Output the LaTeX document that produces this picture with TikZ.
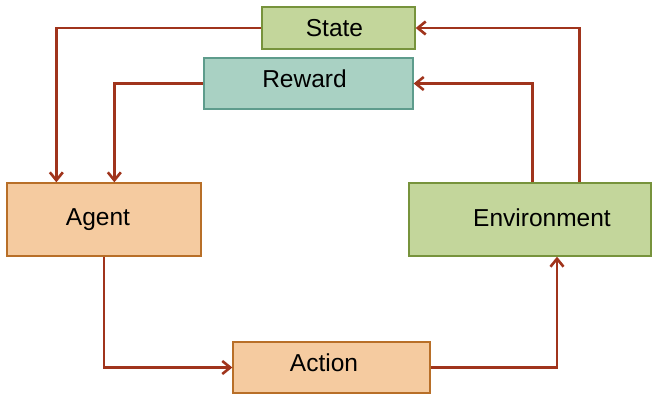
\documentclass[tikz,border=0pt]{standalone}
\usepackage{fontspec}
\setmainfont{Liberation Sans}
\usepackage{tikz}
\usetikzlibrary{arrows.meta,positioning}
\definecolor{arrowred}{HTML}{A0341C}
\definecolor{greenfill}{HTML}{C3D69B}
\definecolor{greenline}{HTML}{77933C}
\definecolor{tealfill}{HTML}{A9D1C3}
\definecolor{tealline}{HTML}{5E9C8C}
\definecolor{peachfill}{HTML}{F5CBA0}
\definecolor{peachline}{HTML}{B86F28}
% move a label inside its box: #1 = twice the x offset, #2 = lift
\newcommand{\nudge}[3]{\raisebox{#2}[\height][\depth]{\hspace*{#1}#3}}
\tikzset{
	box/.style={draw,line width=1.3pt,inner sep=0pt,font=\fontsize{24.5}{28}\selectfont},
	greenbox/.style={box,fill=greenfill,draw=greenline},
	tealbox/.style={box,fill=tealfill,draw=tealline},
	peachbox/.style={box,fill=peachfill,draw=peachline},
	flow/.style={-{Straight Barb[length=8pt,width=13pt]},draw=arrowred,line width=2.6pt}
}
\begin{document}
\begin{tikzpicture}[x=1pt,y=-1pt]
		\useasboundingbox (0,0) rectangle (653,396);
		\node[greenbox,minimum width=153pt,minimum height=42pt] (State) at (338.5,28) {\nudge{-8pt}{0pt}{State}};
		\node[tealbox,minimum width=209pt,minimum height=51pt] (Reward) at (308.5,83.5) {\nudge{-8pt}{4.5pt}{Reward}};
		\node[peachbox,minimum width=194pt,minimum height=73pt] (Agent) at (104,219.5) {\nudge{-12pt}{0pt}{Agent}};
		\node[greenbox,minimum width=242pt,minimum height=73pt] (Env) at (530,219.5) {\nudge{24pt}{2pt}{Environment}};
		\node[peachbox,minimum width=197pt,minimum height=51pt] (Action) at (331.5,367.5) {\nudge{-15pt}{5pt}{Action}};
		%
		\draw[flow] (State.west) -| ([xshift=50pt]Agent.north west);
		\draw[flow] (Reward.west) -| ([xshift=108pt]Agent.north west);
		\draw[flow] ([xshift=171pt]Env.north west) |- (State.east);
		\draw[flow] ([xshift=124pt]Env.north west) |- (Reward.east);
		\draw[flow] (Agent.south) |- (Action.west);
		\draw[flow] (Action.east) -| ([xshift=27pt]Env.south);
	\end{tikzpicture}
\end{document}
